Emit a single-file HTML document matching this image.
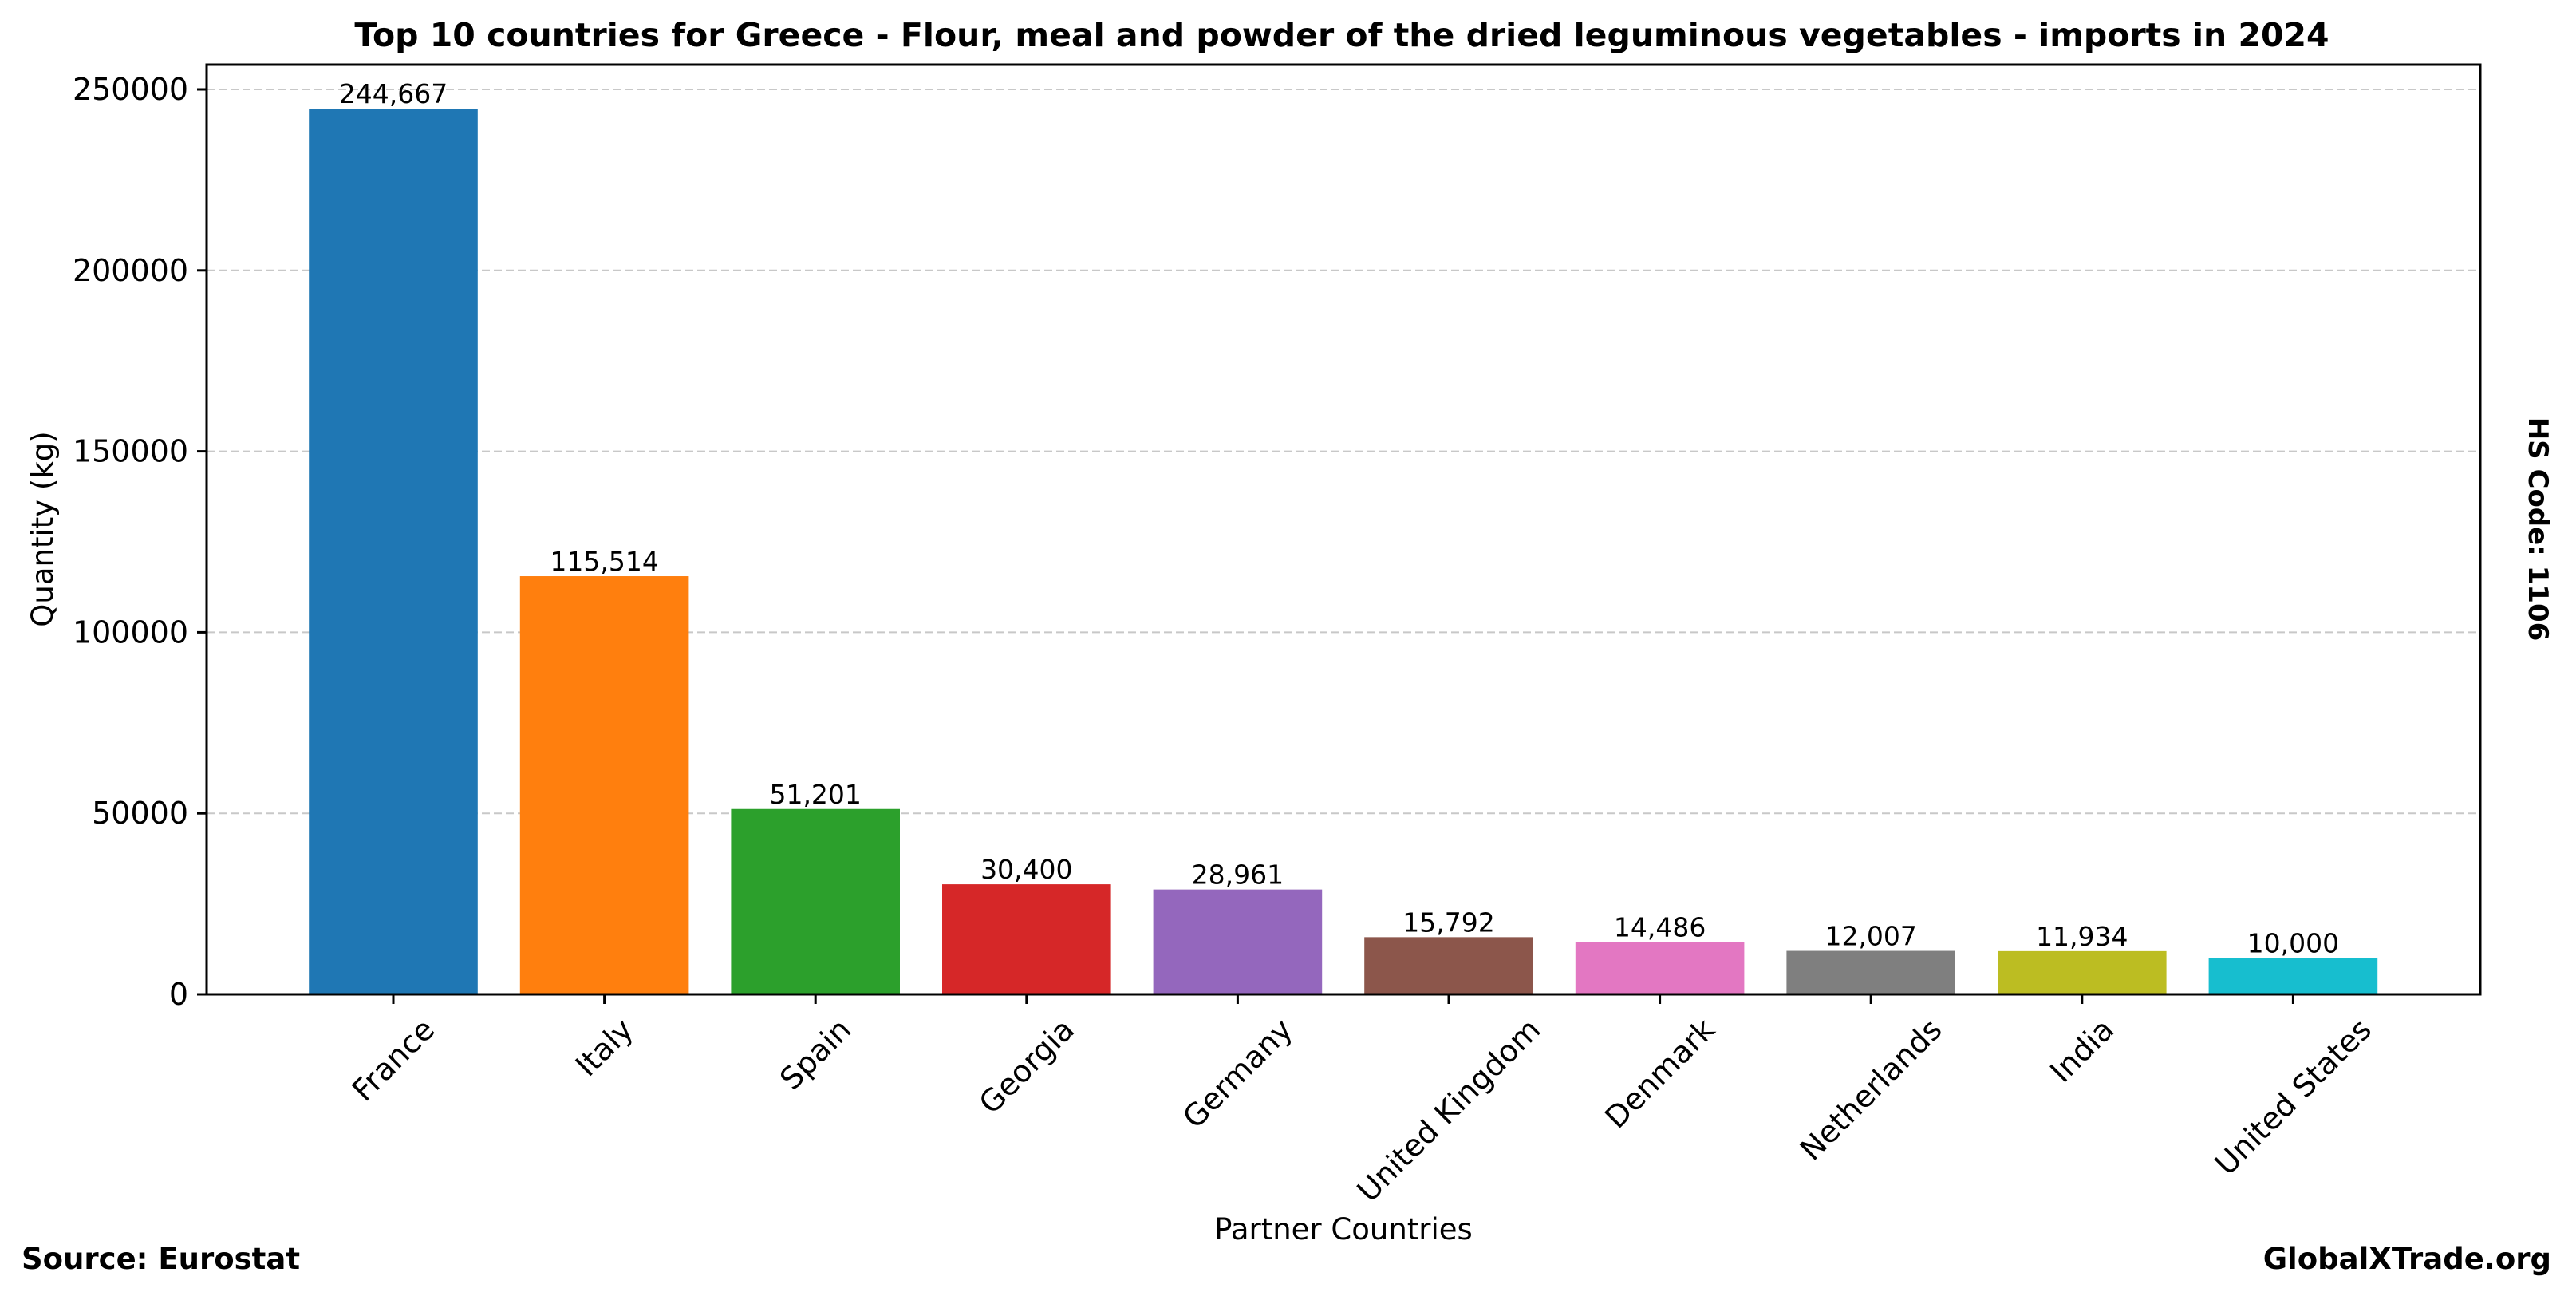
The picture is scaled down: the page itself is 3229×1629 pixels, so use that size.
<!DOCTYPE html>
<html><head><meta charset="utf-8"><style>html,body{margin:0;padding:0;background:#fff}</style></head>
<body>
<svg id="s" width="3229" height="1624" xmlns="http://www.w3.org/2000/svg" font-family="'DejaVu Sans','Liberation Sans',sans-serif">
<rect width="3229" height="1624" fill="#fff"/>
<g id="grid" stroke="#c8c8c8" stroke-width="2" stroke-dasharray="10,5"></g>
<g id="bars"></g>
<rect x="259" y="81" width="2850" height="1165" fill="none" stroke="#000" stroke-width="3"/>
<g id="ticks" font-size="38" fill="#000"></g>
<text x="1682" y="58" text-anchor="middle" font-size="41" font-weight="bold">Top 10 countries for Greece - Flour, meal and powder of the dried leguminous vegetables - imports in 2024</text>
<text transform="translate(66,663) rotate(-90)" text-anchor="middle" font-size="37">Quantity (kg)</text>
<text x="1684" y="1553" text-anchor="middle" font-size="37">Partner Countries</text>
<text x="27" y="1590" font-size="37" font-weight="bold">Source: Eurostat</text>
<text x="3198" y="1590" text-anchor="end" font-size="37" font-weight="bold">GlobalXTrade.org</text>
<text transform="translate(3170,663) rotate(90)" text-anchor="middle" font-size="34" font-weight="bold">HS Code: 1106</text>
</svg>
<script>
var NS="http://www.w3.org/2000/svg";
function el(p,t,a,txt){var e=document.createElementNS(NS,t);for(var k in a)e.setAttribute(k,a[k]);if(txt!==undefined)e.textContent=txt;p.appendChild(e);return e;}
var data=[["France",244667,"#1f77b4"],["Italy",115514,"#ff7f0e"],["Spain",51201,"#2ca02c"],["Georgia",30400,"#d62728"],["Germany",28961,"#9467bd"],["United Kingdom",15792,"#8c564b"],["Denmark",14486,"#e377c2"],["Netherlands",12007,"#7f7f7f"],["India",11934,"#bcbd22"],["United States",10000,"#17becf"]];
var base=1246,sc=1134/250000,x0=493,dx=264.6,bw=211.6;
var g=document.getElementById("grid"),b=document.getElementById("bars"),t=document.getElementById("ticks");
for(var v=0;v<=250000;v+=50000){var y=base-v*sc;
 if(v>0)el(g,"line",{x1:259,x2:3109,y1:y,y2:y});
 el(t,"line",{x1:247,x2:259,y1:y,y2:y,stroke:"#000","stroke-width":3});
 el(t,"text",{x:236,y:y+13,"text-anchor":"end"},String(v));}
data.forEach(function(d,i){var cx=x0+i*dx,h=d[1]*sc;
 el(b,"rect",{x:cx-bw/2,y:base-h,width:bw,height:h,fill:d[2]});
 el(b,"text",{x:cx,y:base-h-7,"text-anchor":"middle","font-size":33},d[1].toLocaleString("en-US"));
 el(t,"line",{x1:cx,x2:cx,y1:base,y2:base+12,stroke:"#000","stroke-width":3});
 var tx=el(t,"text",{x:0,y:0,"text-anchor":"middle","dominant-baseline":"central"},d[0]);
 var w=tx.getComputedTextLength(),hh=38;var box=(w+hh)*0.7071;
 tx.setAttribute("transform","translate("+cx+","+(1270+box/2)+") rotate(-45)");
});
</script>
</body></html>
